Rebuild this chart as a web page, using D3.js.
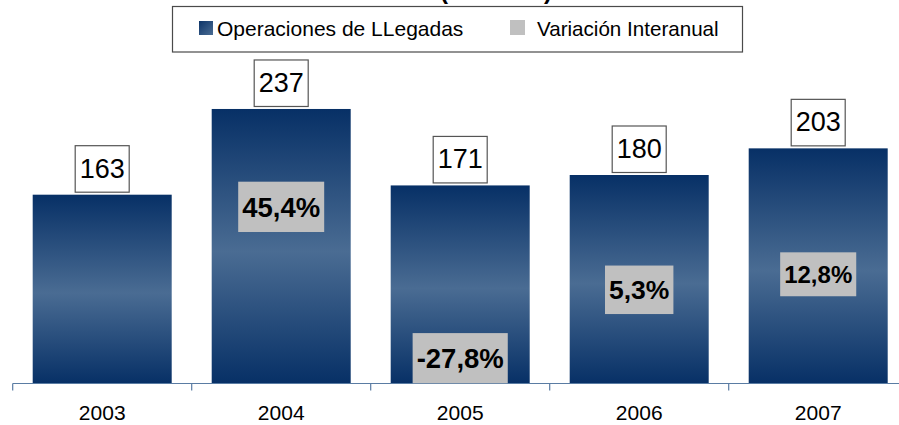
<!DOCTYPE html>
<html><head><meta charset="utf-8">
<script src="https://cdn.jsdelivr.net/npm/d3@7"></script>
<style>html,body{margin:0;padding:0;background:#fff;} svg{display:block;font-family:"Liberation Sans",Arial,sans-serif;}</style>
</head><body>
<svg id="c" width="899" height="425"></svg>
<script>
const years = ["2003","2004","2005","2006","2007"];
const llegadas = [163, 237, 171, 180, 203];
const variacion = [null, 45.4, -27.8, 5.3, 12.8];
const variacionLabels = [null, "45,4%", "-27,8%", "5,3%", "12,8%"];
const seriesNames = ["Operaciones de LLegadas", "Variación Interanual"];
const titleText = "(Millones)";

const svg = d3.select("#c");
const W = 899, H = 425;
const plot = {left: 12.7, right: 907.7, top: 36, bottom: 383.5};

const defs = svg.append("defs");
const g1 = defs.append("linearGradient").attr("id","barGrad").attr("x1",0).attr("y1",0).attr("x2",0).attr("y2",1);
g1.append("stop").attr("offset","0%").attr("stop-color","#073066");
g1.append("stop").attr("offset","52%").attr("stop-color","#4a6c93");
g1.append("stop").attr("offset","100%").attr("stop-color","#073066");
const g2 = defs.append("linearGradient").attr("id","legGrad").attr("x1",0).attr("y1",0).attr("x2",1).attr("y2",1);
g2.append("stop").attr("offset","0%").attr("stop-color","#0d3468");
g2.append("stop").attr("offset","100%").attr("stop-color","#4a6c93");
defs.append("clipPath").attr("id","plotClip").append("rect")
  .attr("x",0).attr("y",0).attr("width",W).attr("height",plot.bottom);

const x = d3.scaleBand().domain(years).range([plot.left, plot.right])
  .paddingInner(40/179).paddingOuter(20/179);
const y = d3.scaleLinear().domain([0, 300]).range([plot.bottom, plot.top]);
const y2 = d3.scaleLinear().domain([-40, 128]).range([plot.bottom, plot.top]);

// title (mostly cut off at top)
svg.append("text").attr("x", 496).attr("y", -1).attr("text-anchor","middle")
  .attr("font-size", 24).attr("font-weight","bold").attr("fill","#000").text(titleText);

// legend
const leg = svg.append("g");
leg.append("rect").attr("x",172.5).attr("y",6.5).attr("width",570).attr("height",45.5)
  .attr("fill","#fff").attr("stroke","#4a4a4a").attr("stroke-width",1.2);
leg.append("rect").attr("x",199).attr("y",21).attr("width",14).attr("height",14).attr("fill","url(#legGrad)");
leg.append("text").attr("x",217).attr("y",35.5).attr("font-size",21).attr("fill","#000").text(seriesNames[0]);
leg.append("rect").attr("x",510).attr("y",20).attr("width",15).attr("height",15).attr("fill","#c0c0c0");
leg.append("text").attr("x",537).attr("y",35.5).attr("font-size",20.6).attr("fill","#000").text(seriesNames[1]);

// bars
const data = years.map((yr,i)=>({yr, v: llegadas[i], p: variacion[i], pl: variacionLabels[i]}));
svg.append("g").selectAll("rect").data(data).join("rect")
  .attr("x", d=>x(d.yr)).attr("width", x.bandwidth())
  .attr("y", d=>y(d.v)).attr("height", d=>y(0)-y(d.v))
  .attr("fill","url(#barGrad)");

// axis
const axisColor = "#5a7ca3";
svg.append("line").attr("x1",plot.left).attr("x2",W+5).attr("y1",plot.bottom).attr("y2",plot.bottom)
  .attr("stroke",axisColor).attr("stroke-width",1.2);
const bounds = years.map(yr => x(yr) - x.step()*x.paddingInner()/2);
svg.append("g").selectAll("line").data(bounds).join("line")
  .attr("x1",d=>d).attr("x2",d=>d).attr("y1",plot.bottom).attr("y2",plot.bottom+7)
  .attr("stroke",axisColor).attr("stroke-width",1.2);
const ax = svg.append("g").attr("transform",`translate(0,${plot.bottom})`)
  .call(d3.axisBottom(x).tickSize(0).tickPadding(0));
ax.select(".domain").remove();
ax.selectAll("text").attr("font-size",21).attr("fill","#000")
  .attr("font-family","'Liberation Sans',Arial,sans-serif")
  .attr("dy",null).attr("y",36.5);

// value labels
const vl = svg.append("g").selectAll("g").data(data).join("g")
  .attr("transform", d=>`translate(${x(d.yr)+x.bandwidth()/2},${y(d.v)-2})`);
vl.append("rect").attr("x",-27).attr("y",-47).attr("width",54).attr("height",46.5)
  .attr("fill","#fff").attr("stroke","#555").attr("stroke-width",1.2);
vl.append("text").attr("x",0).attr("y",-15).attr("text-anchor","middle")
  .attr("font-size",27).attr("fill","#000").text(d=>d.v);

// variation labels (secondary axis)
const pctFont = {"2004":27.5, "2005":27.5, "2006":26.5, "2007":24};
const pg = svg.append("g").attr("clip-path","url(#plotClip)");
const pd = data.filter(d=>d.p!==null);
const pl = pg.selectAll("g").data(pd).join("g")
  .attr("transform", d=>`translate(${x(d.yr)+x.bandwidth()/2},${y2(d.p)})`);
pl.each(function(d){
  const g = d3.select(this);
  const fs = pctFont[d.yr];
  const r = g.append("rect").attr("fill","#c0c0c0");
  const t = g.append("text").attr("text-anchor","middle").attr("font-weight","bold")
    .attr("font-size",fs).attr("fill","#000").attr("y", fs*0.36).text(d.pl);
  const bw = t.node().getBBox().width + 8;
  const bh = fs*1.83;
  r.attr("x",-bw/2).attr("y",-bh/2).attr("width",bw).attr("height",bh);
});
</script>
</body></html>
